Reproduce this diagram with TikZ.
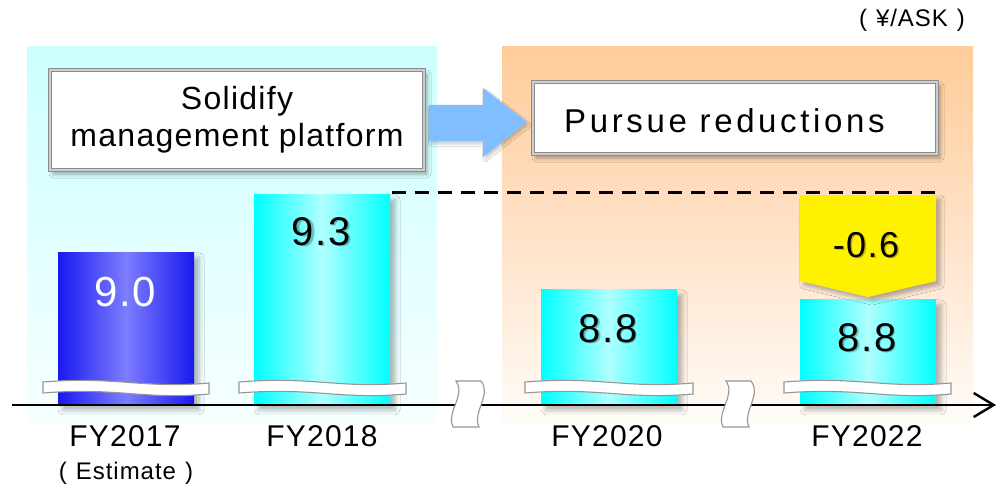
\documentclass[tikz,border=0pt]{standalone}
\usepackage{fontspec}
\setmainfont{Liberation Sans}[LetterSpace=4]
\usetikzlibrary{arrows.meta,shadows.blur}

\definecolor{cyanbg}{RGB}{204,255,255}
\definecolor{cyanlow}{RGB}{246,255,255}
\definecolor{peach}{RGB}{255,204,153}
\definecolor{peachmid}{RGB}{255,226,200}
\definecolor{peachlow}{RGB}{255,252,248}
\definecolor{barblue}{RGB}{25,25,240}
\definecolor{barbluemid}{RGB}{125,125,255}
\definecolor{barcyan}{RGB}{0,255,255}
\definecolor{barcyanmid}{RGB}{175,255,255}
\definecolor{flowblue}{RGB}{128,190,255}
\definecolor{boxgray}{RGB}{140,140,140}
\definecolor{boxlight}{RGB}{205,205,205}
\definecolor{cutgray}{RGB}{150,150,150}

% wavy white band that marks the cut in a bar
\newcommand{\bandcut}[2]{%
  \pgfmathsetmacro{\bw}{#2-#1}%
  \filldraw[cutline]
    (#1,382) .. controls ({#1+0.45*\bw},376) and ({#1+0.6*\bw},389) .. (#2,383)
    -- (#2,394) .. controls ({#1+0.6*\bw},400) and ({#1+0.45*\bw},387) .. (#1,393)
    -- cycle;}
% wavy break mark across the axis
\newcommand{\axiscut}[1]{%
  \filldraw[cutline]
    (#1+3,381) .. controls (#1+13,395) and (#1-7,412) .. (#1,427)
    -- (#1+26,427) .. controls (#1+19,412) and (#1+39,395) .. (#1+28,381)
    -- cycle;}

\begin{document}
\begin{tikzpicture}[x=1pt,y=-1pt,
  panel/.style={fill=white, draw=boxgray, line width=1.5pt, double=boxlight,
    double distance=1.8pt, inner sep=0pt,
    blur shadow={shadow xshift=3pt, shadow yshift=-4pt, shadow blur radius=4pt, shadow opacity=35}},
  bar/.style={minimum width=136pt, anchor=south, inner sep=0pt,
    blur shadow={shadow xshift=5pt, shadow yshift=-5pt, shadow blur radius=5pt, shadow opacity=30}},
  bluebar/.style={bar, left color=barblue, right color=barblue, middle color=barbluemid},
  cyanbar/.style={bar, left color=barcyan, right color=barcyan, middle color=barcyanmid},
  num/.style={font=\fontsize{40}{44}\selectfont, anchor=base, inner sep=0pt},
  numshade/.style={num, text=black, opacity=0.25},
  year/.style={font=\fontsize{30}{34}\selectfont, anchor=base, inner sep=0pt},
  cutline/.style={fill=white, draw=cutgray, line width=1.1pt},
  axisline/.style={line width=2.4pt, -{Straight Barb[length=20pt,width=24pt,line width=2.4pt]}},
  refline/.style={line width=3pt, dash pattern=on 14pt off 9pt},
]
\useasboundingbox (0,0) rectangle (1001,484);
\fill[white] (0,0) rectangle (1001,484);

% phase backgrounds
\path[top color=cyanbg, bottom color=cyanlow] (27,47) rectangle (437,422);
\path[top color=peach, bottom color=peachlow, middle color=peachmid] (502,47) rectangle (973,422);

% unit
\node[font=\fontsize{24}{28}\selectfont, anchor=base, inner sep=0pt] (unit) at (912,27)
  {(\hspace{9pt}¥/ASK\hspace{9pt})};

% headline boxes and the arrow between them
\node[panel, minimum width=374pt, minimum height=100pt, align=center,
  font=\fontsize{32}{37}\selectfont] (plat) at (237,120)
  {Solidify\\management platform};
\node[panel, minimum width=404pt, minimum height=72pt] (pur) at (735,118) {};
\node[font=\fontsize{33}{37}\selectfont\addfontfeatures{LetterSpace=11}, anchor=base west,
  inner sep=0pt] (purtext) at (564,132) {Pursue reductions};
\fill[flowblue, blur shadow={shadow xshift=2pt, shadow yshift=-3pt, shadow opacity=20}]
  ([xshift=4pt]plat.east |- 0,105) -- (483,105) -- (483,88)
  -- ([xshift=-5pt]pur.west |- 0,122) -- (483,157) -- (483,141)
  -- ([xshift=4pt]plat.east |- 0,141) -- cycle;

% reference level of FY2018
\coordinate (refL) at (392,192);
\coordinate (refR) at (937,192);
\draw[refline] (refL) -- (refR);

% bars
\node[bluebar, minimum height=152pt] (b17) at (126,405) {};
\node[cyanbar, minimum height=210pt] (b18) at (322,405) {};
\node[cyanbar, minimum height=115pt] (b20) at (609,405) {};
\node[cyanbar, minimum height=105pt] (b22) at (868,405) {};

% reduction target
\fill[yellow, blur shadow={shadow xshift=4pt, shadow yshift=-4pt, shadow blur radius=4pt, shadow opacity=30}]
  (b22.west |- 0,195) -- (b22.east |- 0,195) -- (b22.east |- 0,281)
  -- (b22.center |- 0,297) -- (b22.west |- 0,281) -- cycle;

% values, with their soft drop shadows
\node[num, text=white, font=\fontsize{42}{46}\selectfont] (v17) at (125,306) {9.0};
\node[numshade] at (323.5,246.5) {9.3};
\node[num] (v18) at (321,245) {9.3};
\node[numshade] at (609.5,343.5) {8.8};
\node[num] (v20) at (608,342) {8.8};
\node[numshade] at (868.5,352.5) {8.8};
\node[num] (v22) at (867,351) {8.8};
\node[numshade, font=\fontsize{36}{40}\selectfont] at (867.5,258.5) {-0.6};
\node[num, font=\fontsize{36}{40}\selectfont] (cut) at (866,257) {-0.6};

% cut marks on bars
\bandcut{43}{209}
\bandcut{239}{406}
\bandcut{525}{693}
\bandcut{784}{951}

% axis
\coordinate (axL) at (12,405);
\coordinate (axR) at (996,405);
\draw[axisline] (axL) -- (axR);
\axiscut{453}
\axiscut{723}

% years
\node[year] (y17) at (125,446) {FY2017};
\node[font=\fontsize{24}{27}\selectfont, anchor=base, inner sep=0pt] (est) at (126,479)
  {(\hspace{9pt}Estimate\hspace{9pt})};
\node[year] (y18) at (322,446) {FY2018};
\node[year] (y20) at (607,446) {FY2020};
\node[year] (y22) at (867,446) {FY2022};
\end{tikzpicture}
\end{document}
